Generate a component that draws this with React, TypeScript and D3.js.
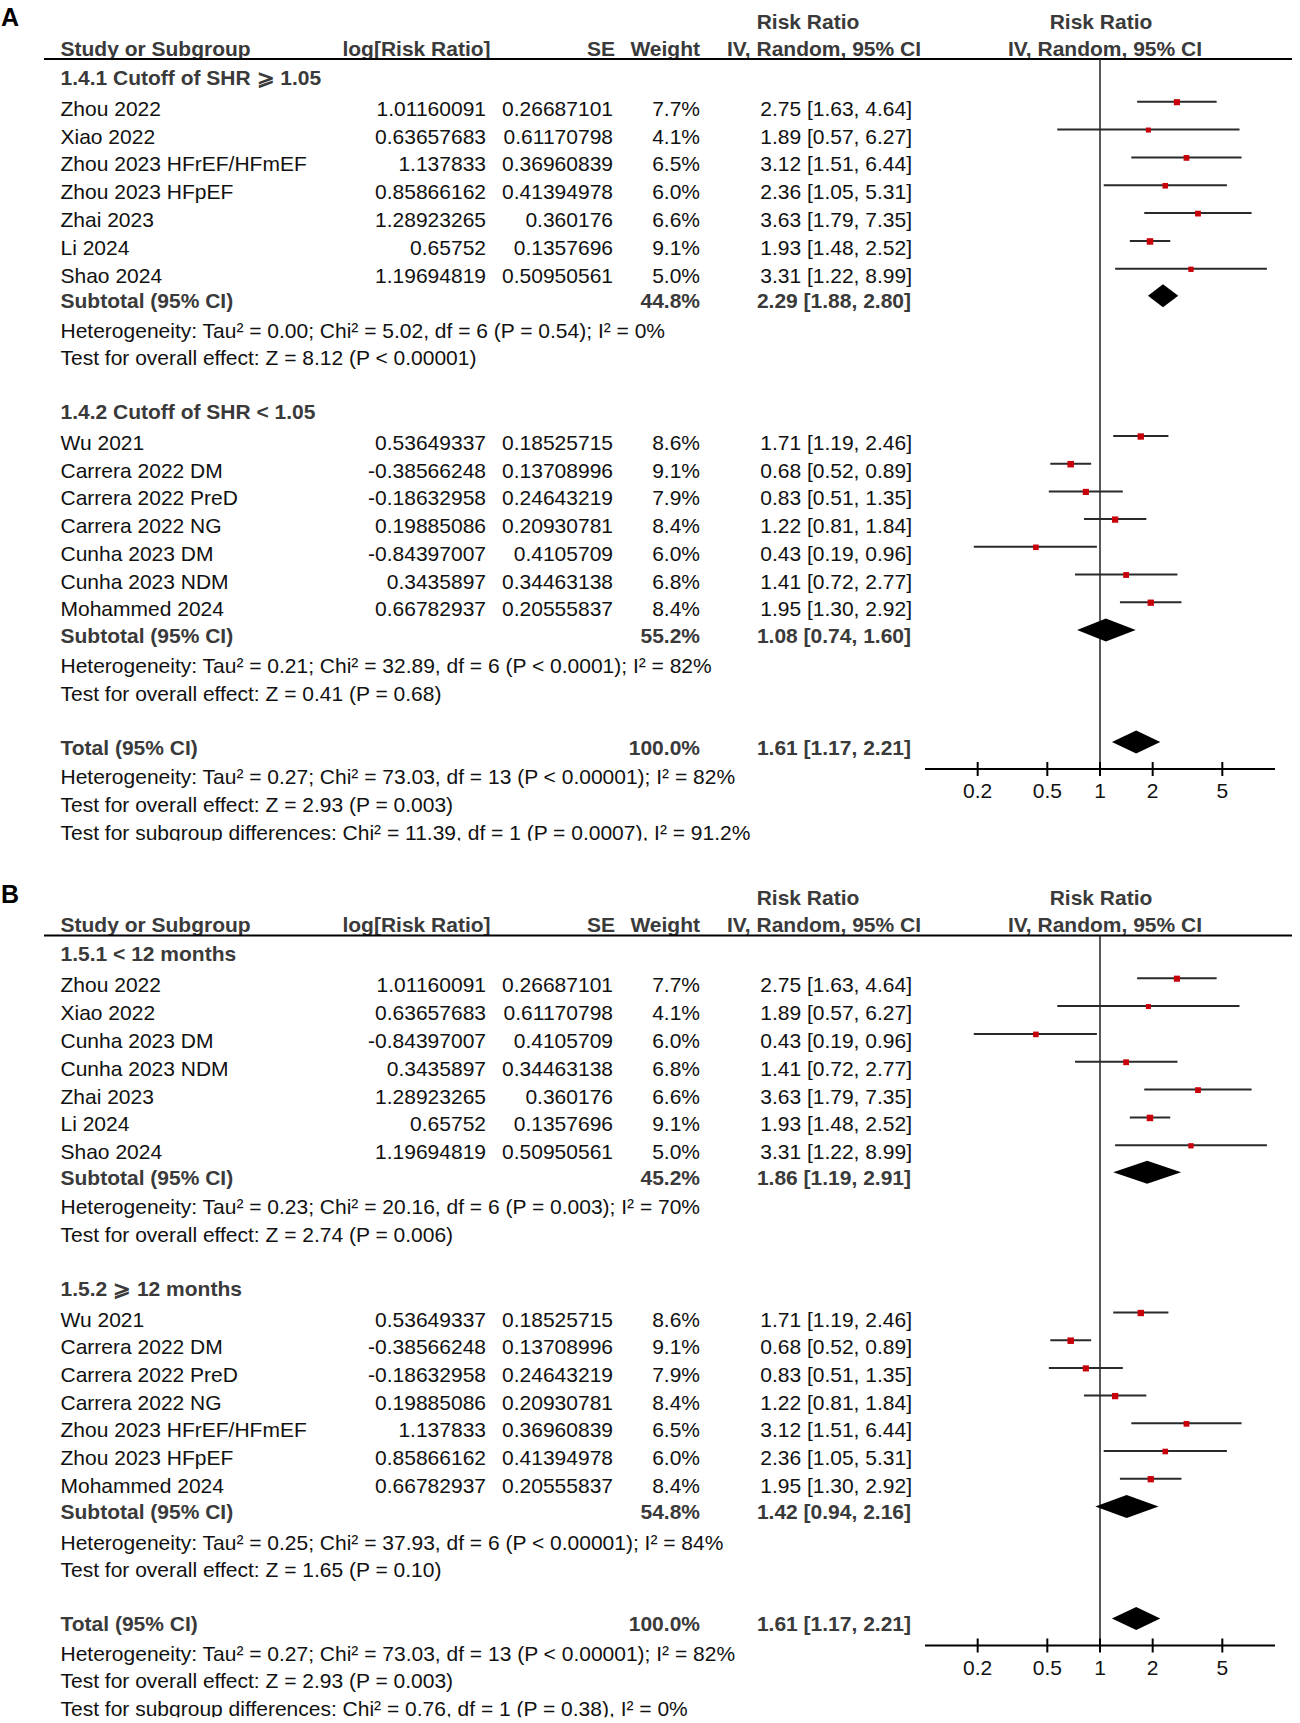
import { useEffect, useRef } from "react";
import * as d3 from "d3";

// study level data (shared by both panels)
const studyNames = [
  "Zhou 2022",
  "Xiao 2022",
  "Zhou 2023 HFrEF/HFmEF",
  "Zhou 2023 HFpEF",
  "Zhai 2023",
  "Li 2024",
  "Shao 2024",
  "Wu 2021",
  "Carrera 2022 DM",
  "Carrera 2022 PreD",
  "Carrera 2022 NG",
  "Cunha 2023 DM",
  "Cunha 2023 NDM",
  "Mohammed 2024",
];
const logRR = [
  1.01160091, 0.63657683, 1.137833, 0.85866162, 1.28923265, 0.65752, 1.19694819,
  0.53649337, -0.38566248, -0.18632958, 0.19885086, -0.84397007, 0.3435897, 0.66782937,
];
const seVals = [
  0.26687101, 0.61170798, 0.36960839, 0.41394978, 0.360176, 0.1357696, 0.50950561,
  0.18525715, 0.13708996, 0.24643219, 0.20930781, 0.4105709, 0.34463138, 0.20555837,
];
const weights = [7.7, 4.1, 6.5, 6.0, 6.6, 9.1, 5.0, 8.6, 9.1, 7.9, 8.4, 6.0, 6.8, 8.4];
const rrVals = [2.75, 1.89, 3.12, 2.36, 3.63, 1.93, 3.31, 1.71, 0.68, 0.83, 1.22, 0.43, 1.41, 1.95];
const ciLow = [1.63, 0.57, 1.51, 1.05, 1.79, 1.48, 1.22, 1.19, 0.52, 0.51, 0.81, 0.19, 0.72, 1.3];
const ciHigh = [4.64, 6.27, 6.44, 5.31, 7.35, 2.52, 8.99, 2.46, 0.89, 1.35, 1.84, 0.96, 2.77, 2.92];

// subgroups: A1, A2, B1, B2
const subgroupTitles = [
  "1.4.1 Cutoff of SHR ⩾ 1.05",
  "1.4.2 Cutoff of SHR < 1.05",
  "1.5.1 < 12 months",
  "1.5.2 ⩾ 12 months",
];
const subgroupMembers = [
  [0, 1, 2, 3, 4, 5, 6],
  [7, 8, 9, 10, 11, 12, 13],
  [0, 1, 11, 12, 4, 5, 6],
  [7, 8, 9, 10, 2, 3, 13],
];
const subWeights = [44.8, 55.2, 45.2, 54.8];
const subRR = [2.29, 1.08, 1.86, 1.42];
const subLow = [1.88, 0.74, 1.19, 0.94];
const subHigh = [2.8, 1.6, 2.91, 2.16];
const subHet = [
  "Heterogeneity: Tau² = 0.00; Chi² = 5.02, df = 6 (P = 0.54); I² = 0%",
  "Heterogeneity: Tau² = 0.21; Chi² = 32.89, df = 6 (P < 0.0001); I² = 82%",
  "Heterogeneity: Tau² = 0.23; Chi² = 20.16, df = 6 (P = 0.003); I² = 70%",
  "Heterogeneity: Tau² = 0.25; Chi² = 37.93, df = 6 (P < 0.00001); I² = 84%",
];
const subTest = [
  "Test for overall effect: Z = 8.12 (P < 0.00001)",
  "Test for overall effect: Z = 0.41 (P = 0.68)",
  "Test for overall effect: Z = 2.74 (P = 0.006)",
  "Test for overall effect: Z = 1.65 (P = 0.10)",
];

// totals
const totalRR = [1.61, 1.17, 2.21];
const totalHet = "Heterogeneity: Tau² = 0.27; Chi² = 73.03, df = 13 (P < 0.00001); I² = 82%";
const totalTest = "Test for overall effect: Z = 2.93 (P = 0.003)";
const subgroupDiff = [
  "Test for subgroup differences: Chi² = 11.39, df = 1 (P = 0.0007), I² = 91.2%",
  "Test for subgroup differences: Chi² = 0.76, df = 1 (P = 0.38), I² = 0%",
];
const panelLetters = ["A", "B"];
const axisTicks = [0.2, 0.5, 1, 2, 5];

const W = 1300;
const H = 1723;
const FONT = "'Liberation Sans', Arial, Helvetica, sans-serif";
const FS = 21;
const BOLD_COL = "#3a3a3a";
const TXT_COL = "#111";

const App = () => {
  const svgRef = useRef<SVGSVGElement | null>(null);

  useEffect(() => {
    const svg = d3.select(svgRef.current);
    svg.selectAll("*").remove();
    svg.append("rect").attr("width", W).attr("height", H).attr("fill", "white");

    const x = d3.scaleLog().domain([0.1, 10]).range([925, 1275]);
    const sq = d3.scaleLinear().domain([4, 9.1]).range([5, 6.5]);
    const fmt = (v: number) => v.toFixed(2);
    const ciText = (r: number, l: number, h: number) => `${fmt(r)} [${fmt(l)}, ${fmt(h)}]`;

    const defs = svg.append("defs");

    const text = (
      g: d3.Selection<SVGGElement, unknown, null, undefined>,
      s: string,
      tx: number,
      ty: number,
      anchor = "start",
      bold = false,
    ) =>
      g
        .append("text")
        .attr("x", tx)
        .attr("y", ty)
        .attr("text-anchor", anchor)
        .attr("font-family", FONT)
        .attr("font-size", FS)
        .attr("font-weight", bold ? "bold" : "normal")
        .attr("fill", bold ? BOLD_COL : TXT_COL)
        .text(s);

    const diamond = (
      g: d3.Selection<SVGGElement, unknown, null, undefined>,
      r: number,
      l: number,
      h: number,
      cy: number,
    ) => {
      g.append("path")
        .attr(
          "d",
          `M${x(l)},${cy} L${x(r)},${cy - 11.5} L${x(h)},${cy} L${x(r)},${cy + 11.5} Z`,
        )
        .attr("fill", "#000");
    };

    panelLetters.forEach((letter, p) => {
      const off = p * 876.5;
      defs
        .append("clipPath")
        .attr("id", `clip${p}`)
        .append("rect")
        .attr("x", 0)
        .attr("y", 0)
        .attr("width", W)
        .attr("height", 840.8);

      const g = svg
        .append("g")
        .attr("transform", `translate(0,${off})`)
        .attr("clip-path", `url(#clip${p})`);

      // panel letter
      g.append("text")
        .attr("x", 1)
        .attr("y", 26.4)
        .attr("font-family", FONT)
        .attr("font-size", 25)
        .attr("font-weight", "bold")
        .attr("fill", "#000")
        .text(letter);

      // headers
      text(g, "Risk Ratio", 808, 28.7, "middle", true);
      text(g, "Risk Ratio", 1101, 28.7, "middle", true);
      text(g, "Study or Subgroup", 60.5, 55.5, "start", true);
      text(g, "log[Risk Ratio]", 490.6, 55.5, "end", true);
      text(g, "SE", 615, 55.5, "end", true);
      text(g, "Weight", 700, 55.5, "end", true);
      text(g, "IV, Random, 95% CI", 824, 55.5, "middle", true);
      text(g, "IV, Random, 95% CI", 1105, 55.5, "middle", true);
      g.append("line")
        .attr("x1", 44)
        .attr("x2", 1292)
        .attr("y1", 59)
        .attr("y2", 59)
        .attr("stroke", "#000")
        .attr("stroke-width", 2);

      // null line
      g.append("line")
        .attr("x1", x(1))
        .attr("x2", x(1))
        .attr("y1", 59)
        .attr("y2", 769)
        .attr("stroke", "#222")
        .attr("stroke-width", 1.5);

      const layout = [
        { title: 84.8, row0: 115.7, step: 27.85, sub: 308.3, het: 337.8, test: 365.3 },
        { title: 419.2, row0: 450, step: 27.7, sub: 642.5, het: 673.3, test: 700.8 },
      ];

      layout.forEach((lay, k) => {
        const s = p * 2 + k;
        text(g, subgroupTitles[s], 60.5, lay.title, "start", true);
        subgroupMembers[s].forEach((idx, i) => {
          const by = lay.row0 + i * lay.step;
          text(g, studyNames[idx], 60.5, by);
          text(g, String(logRR[idx]), 486, by, "end");
          text(g, String(seVals[idx]), 613, by, "end");
          text(g, `${weights[idx].toFixed(1)}%`, 700, by, "end");
          text(g, ciText(rrVals[idx], ciLow[idx], ciHigh[idx]), 912, by, "end");
          const ly = by - 14;
          g.append("line")
            .attr("x1", x(ciLow[idx]))
            .attr("x2", x(ciHigh[idx]))
            .attr("y1", ly)
            .attr("y2", ly)
            .attr("stroke", "#2a2a2a")
            .attr("stroke-width", 2);
          const sz = sq(weights[idx]);
          g.append("rect")
            .attr("x", x(rrVals[idx]) - sz / 2)
            .attr("y", ly - sz / 2 + 0.5)
            .attr("width", sz)
            .attr("height", sz)
            .attr("fill", "#c8000a");
        });
        text(g, "Subtotal (95% CI)", 60.5, lay.sub, "start", true);
        text(g, `${subWeights[s].toFixed(1)}%`, 700, lay.sub, "end", true);
        text(g, ciText(subRR[s], subLow[s], subHigh[s]), 911, lay.sub, "end", true);
        diamond(g, subRR[s], subLow[s], subHigh[s], lay.sub - 12.5);
        text(g, subHet[s], 60.5, lay.het);
        text(g, subTest[s], 60.5, lay.test);
      });

      // total
      text(g, "Total (95% CI)", 60.5, 754.7, "start", true);
      text(g, "100.0%", 700, 754.7, "end", true);
      text(g, ciText(totalRR[0], totalRR[1], totalRR[2]), 911, 754.7, "end", true);
      diamond(g, totalRR[0], totalRR[1], totalRR[2], 742);
      text(g, totalHet, 60.5, 784.4);
      text(g, totalTest, 60.5, 811.9);
      text(g, subgroupDiff[p], 60.5, 839.6);

      // axis
      const ax = g.append("g").attr("transform", "translate(0,769)");
      ax.append("line")
        .attr("x1", x(0.1))
        .attr("x2", x(10))
        .attr("stroke", "#000")
        .attr("stroke-width", 2);
      ax.selectAll(".tk")
        .data(axisTicks)
        .join("line")
        .attr("class", "tk")
        .attr("x1", (d) => x(d))
        .attr("x2", (d) => x(d))
        .attr("y1", -7)
        .attr("y2", 7)
        .attr("stroke", "#000")
        .attr("stroke-width", 2);
      ax.selectAll(".tl")
        .data(axisTicks)
        .join("text")
        .attr("class", "tl")
        .attr("x", (d) => x(d))
        .attr("y", 29)
        .attr("text-anchor", "middle")
        .attr("font-family", FONT)
        .attr("font-size", FS)
        .attr("fill", TXT_COL)
        .text((d) => String(d));
    });
  }, []);

  return (
    <div style={{ position: "absolute", left: 0, top: 0 }}>
      <svg ref={svgRef} width={W} height={H} style={{ display: "block" }}></svg>
    </div>
  );
};

export default App;
